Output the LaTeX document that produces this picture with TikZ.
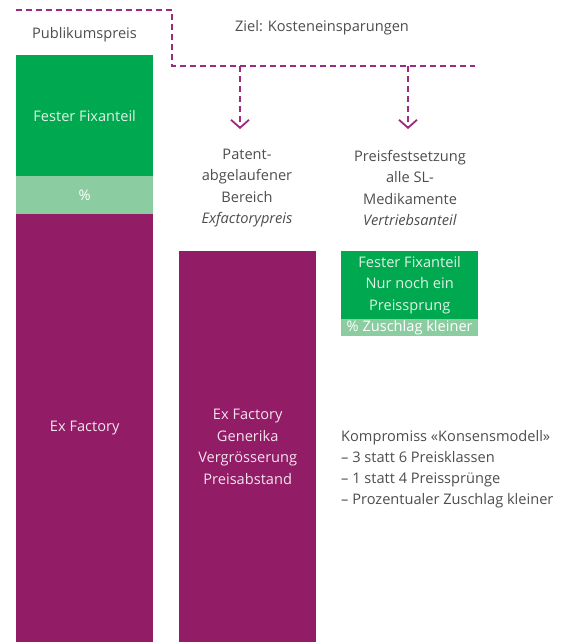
\documentclass[tikz,border=0pt]{standalone}
\usepackage{fontspec}
\setmainfont{Open Sans}
\usetikzlibrary{arrows.meta,positioning}
\definecolor{prgreen}{HTML}{00A94F}
\definecolor{prlight}{HTML}{8BCCA0}
\definecolor{prpurple}{HTML}{931C67}
\definecolor{prdash}{HTML}{9E2A7E}
\definecolor{prgrey}{HTML}{4D4D4D}
\definecolor{prpale}{HTML}{E0F2E5}
\tikzset{
  bar/.style={draw=none,fill=prpurple,minimum width=137pt,inner sep=0pt,
              align=center,text=white!88!prpurple,font=\fontsize{14.6}{21.5}\selectfont},
  fix/.style={bar,fill=prgreen,text=prpale},
  pct/.style={bar,fill=prlight,text=white},
  txt/.style={align=center,text=prgrey,font=\fontsize{14.6}{21.2}\selectfont,inner sep=0pt},
  goal/.style={dashed,dash pattern=on 6pt off 4pt,line width=1.8pt,prdash},
  ar/.style={goal,-{Straight Barb[length=8pt,width=18pt,line width=1.8pt]}},
}
\begin{document}
\begin{tikzpicture}[x=1pt,y=-1pt]
  \useasboundingbox (0,0) rectangle (574,642);
  % left column: Publikumspreis
  \node[txt] (pub) at (84.5,35) {Publikumspreis};
  \node[fix,minimum height=121pt,anchor=north west] (fixL) at (16,55) {Fester Fixanteil};
  \node[pct,minimum height=38pt,anchor=north west] (pctL) at (16,176) {\%};
  \node[bar,minimum height=428pt,anchor=north west] (exL) at (16,214) {Ex Factory};
  % middle column
  \node[txt] (patent) at (247,188)
    {Patent-\\abgelaufener\\Bereich\\\textit{Exfactorypreis}};
  \node[bar,minimum height=391pt,anchor=north west] (exM) at (179,251)
    {Ex Factory\\Generika\\Vergrösserung\\Preisabstand};
  % right column
  \node[txt] (sl) at (410,188)
    {Preisfestsetzung\\alle SL-\\Medikamente\\\textit{Vertriebsanteil}};
  \node[fix,minimum height=68pt,anchor=north west] (fixR) at (341,251)
    {Fester Fixanteil\\Nur noch ein\\Preissprung};
  \node[pct,minimum height=17pt,anchor=north west] (pctR) at (341,319) {\% Zuschlag kleiner};
  \node[txt,align=left,anchor=north west] (komp) at (341,430)
    {Kompromiss «Konsensmodell»\\– 3 statt 6 Preisklassen\\– 1 statt 4 Preissprünge\\– Prozentualer Zuschlag kleiner};
  % goal
  \node[txt] (ziel) at (322,28) {Ziel: Kosteneinsparungen};
  \coordinate (g0) at (16,10);
  \coordinate (g1) at (172,10);
  \coordinate (g2) at (172,66);
  \coordinate (g3) at (475,66);
  \coordinate (gM) at (240,66);
  \coordinate (gR) at (408,66);
  \draw[goal] (g0) -- (g1) -- (g2) -- (g3);
  \draw[ar] (gM) -- (gM |- 0,129);
  \draw[ar] (gR) -- (gR |- 0,129);
\end{tikzpicture}
\end{document}
